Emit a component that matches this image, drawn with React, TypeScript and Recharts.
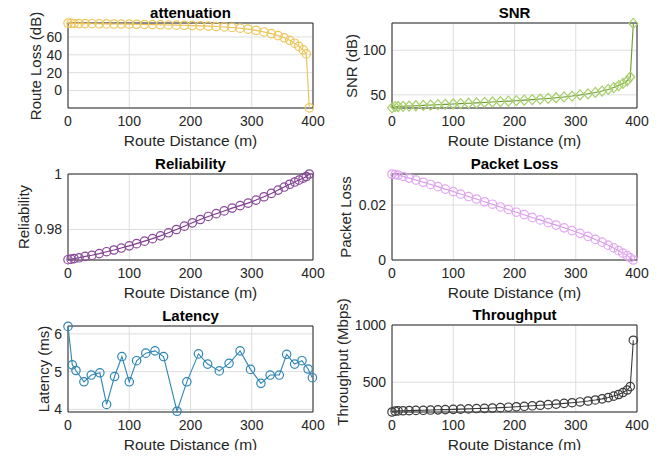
import { LineChart, Line, XAxis, YAxis, CartesianGrid, ReferenceArea } from 'recharts'

const FONT = '"Liberation Sans", Arial, Helvetica, sans-serif'
const INK = '#262626'

// route distance (m) for the smooth metrics
const distance = [
  0, 5, 10, 18, 28, 39, 51, 63, 75, 87, 100, 112, 125, 138, 151, 164, 177, 190, 203, 216,
  229, 242, 255, 268, 281, 294, 307, 320, 332, 343, 353, 362, 370, 377, 384, 389, 394,
]
// latency was sampled at its own points
const latencyDistance = [
  0, 7, 13, 26, 38, 52, 63, 76, 88, 100, 112, 127, 142, 156, 178, 194, 213, 228, 247, 263,
  281, 298, 315, 330, 345, 357, 370, 382, 392, 399,
]

const xTicks = [0, 100, 200, 300, 400]

const attenuation = [
  75.5, 75.2, 75.1, 75.0, 74.9, 74.8, 74.7, 74.6, 74.5, 74.4, 74.3, 74.2, 74.0, 73.8, 73.6,
  73.4, 73.2, 73.0, 72.7, 72.4, 72.1, 71.7, 71.2, 70.6, 69.8, 68.7, 67.3, 65.6, 63.7, 61.5,
  59.0, 56.2, 53.0, 49.5, 45.5, 41.0, -19.5,
]
const snr = [
  35.5, 36.8, 37.0, 37.2, 37.5, 37.8, 38.2, 38.6, 39.0, 39.4, 39.8, 40.2, 40.6, 41.0, 41.5,
  42.0, 42.5, 43.0, 43.5, 44.1, 44.7, 45.3, 46.0, 46.8, 47.7, 48.7, 49.9, 51.2, 52.7, 54.3,
  56.1, 58.2, 60.4, 62.8, 65.8, 70.0, 130.0,
]
const reliability = [
  0.9691, 0.9693, 0.9695, 0.9698, 0.9703, 0.9707, 0.9713, 0.972, 0.9726, 0.9733, 0.9741,
  0.9749, 0.9758, 0.9767, 0.9777, 0.9788, 0.98, 0.9812, 0.9824, 0.9836, 0.9847, 0.9857,
  0.9867, 0.9877, 0.9886, 0.9895, 0.9906, 0.9918, 0.993, 0.9942, 0.9953, 0.9963, 0.9971,
  0.9978, 0.9985, 0.9991, 1.0,
]
const packetLoss = [
  0.0313, 0.0311, 0.0309, 0.0304, 0.0298, 0.0291, 0.0283, 0.0275, 0.0267, 0.0258, 0.0249,
  0.024, 0.0231, 0.0222, 0.0212, 0.0203, 0.0193, 0.0184, 0.0174, 0.0165, 0.0155, 0.0146,
  0.0136, 0.0127, 0.0117, 0.0107, 0.0097, 0.0086, 0.0075, 0.0065, 0.0054, 0.0044, 0.0034,
  0.0025, 0.0016, 0.0008, 0.0,
]
const latency = [
  6.2, 5.18, 5.03, 4.73, 4.91, 4.97, 4.13, 4.87, 5.4, 4.73, 5.29, 5.49, 5.55, 5.4, 3.95,
  4.73, 5.47, 5.2, 5.02, 5.22, 5.55, 5.06, 4.69, 4.91, 4.91, 5.46, 5.2, 5.29, 5.07, 4.84,
]
const throughput = [
  240, 248, 250, 251, 252, 254, 255, 257, 259, 261, 263, 265, 267, 270, 272, 275, 278, 282,
  286, 290, 294, 299, 304, 309, 315, 321, 328, 336, 345, 355, 366, 379, 393, 410, 432, 462,
  867,
]

const zip = (xs: number[], ys: number[]) => xs.map((x, i) => ({ x, y: ys[i] }))

type Marker = 'circle' | 'diamond'

const makeDot = (color: string, marker: Marker) => (p: any) => {
  if (p.cx == null || p.cy == null) return <g key={`d${p.index}`} />
  if (marker === 'diamond') {
    const { cx, cy } = p
    return (
      <path
        key={`d${p.index}`}
        d={`M${cx},${cy - 5}L${cx + 4.5},${cy}L${cx},${cy + 5}L${cx - 4.5},${cy}Z`}
        fill="none"
        stroke={color}
        strokeWidth={1.2}
      />
    )
  }
  return <circle key={`d${p.index}`} cx={p.cx} cy={p.cy} r={4.2} fill="none" stroke={color} strokeWidth={1.2} />
}

interface PanelProps {
  title: string
  yLabel: string
  data: { x: number; y: number }[]
  line: string
  marker: string
  shape?: Marker
  domain: [number, number]
  yTicks: number[]
  px: number
  py: number
  ph: number
  yLabelX: number
  yLabelY?: number
}

const PW = 245
const LEFT = 60
const TOP = 10
const RIGHT = 24

const text: React.CSSProperties = {
  position: 'absolute',
  transform: 'translate(-50%, -50%)',
  whiteSpace: 'nowrap',
  lineHeight: 1,
  fontFamily: FONT,
  color: INK,
}

function Panel({ title, yLabel, data, line, marker, shape = 'circle', domain, yTicks, px, py, ph, yLabelX, yLabelY }: PanelProps) {
  const tick = { fill: INK, fontSize: 14, fontFamily: FONT }
  return (
    <>
      <div style={{ position: 'absolute', left: px - LEFT, top: py - TOP }}>
        <LineChart width={PW + LEFT + RIGHT} height={ph + TOP + 30} data={data} margin={{ top: TOP, right: RIGHT, bottom: 0, left: 0 }}>
          <CartesianGrid stroke="#dedede" />
          <XAxis
            type="number"
            dataKey="x"
            domain={[0, 400]}
            ticks={xTicks}
            interval={0}
            tickLine={false}
            axisLine={false}
            tick={tick}
            height={30}
          />
          <YAxis
            type="number"
            domain={domain}
            ticks={yTicks}
            interval={0}
            tickLine={false}
            axisLine={false}
            tickSize={4}
            tick={tick}
            width={LEFT}
          />
          <ReferenceArea x1={0} x2={400} y1={domain[0]} y2={domain[1]} fill="none" stroke={INK} strokeWidth={1} />
          <Line
            type="linear"
            dataKey="y"
            stroke={line}
            strokeWidth={1.1}
            dot={makeDot(marker, shape)}
            activeDot={false}
            isAnimationActive={false}
          />
        </LineChart>
      </div>
      <div style={{ ...text, left: px + PW / 2, top: py - 11, fontWeight: 'bold', fontSize: 15, color: '#000' }}>{title}</div>
      <div style={{ ...text, left: px + PW / 2, top: py + ph + 33, fontSize: 15.5 }}>Route Distance (m)</div>
      <div
        style={{
          ...text,
          left: yLabelX,
          top: yLabelY ?? py + ph / 2,
          fontSize: 15,
          transform: 'translate(-50%, -50%) rotate(-90deg)',
        }}
      >
        {yLabel}
      </div>
    </>
  )
}

export default function App() {
  return (
    <div style={{ position: 'relative', width: 671, height: 458, margin: -8, background: '#fff', overflow: 'hidden' }}>
      <Panel
        title="attenuation"
        yLabel="Route Loss (dB)"
        data={zip(distance, attenuation)}
        line="#EDC150"
        marker="#EFC65A"
        domain={[-19.6, 75.6]}
        yTicks={[0, 20, 40, 60]}
        px={68}
        py={23}
        ph={85}
        yLabelX={35}
      />
      <Panel
        title="SNR"
        yLabel="SNR (dB)"
        data={zip(distance, snr)}
        line="#6B9A2C"
        marker="#A6CF6A"
        shape="diamond"
        domain={[35.3, 130.5]}
        yTicks={[50, 100]}
        px={392}
        py={23}
        ph={85}
        yLabelX={351}
      />
      <Panel
        title="Reliability"
        yLabel="Reliability"
        data={zip(distance, reliability)}
        line="#7E3A8E"
        marker="#8A4A9A"
        domain={[0.969, 1.0]}
        yTicks={[0.98, 1]}
        px={68}
        py={174}
        ph={86}
        yLabelX={23}
      />
      <Panel
        title="Packet Loss"
        yLabel="Packet Loss"
        data={zip(distance, packetLoss)}
        line="#D898EA"
        marker="#E2A6F2"
        domain={[0, 0.0313]}
        yTicks={[0, 0.02]}
        px={392}
        py={174}
        ph={86}
        yLabelX={345}
      />
      <Panel
        title="Latency"
        yLabel="Latency (ms)"
        data={zip(latencyDistance, latency)}
        line="#2F86B5"
        marker="#2F86B5"
        domain={[3.93, 6.21]}
        yTicks={[4, 5, 6]}
        px={68}
        py={326}
        ph={86}
        yLabelX={43}
      />
      <Panel
        title="Throughput"
        yLabel="Throughput (Mbps)"
        data={zip(distance, throughput)}
        line="#3A3A3A"
        marker="#3A3A3A"
        domain={[240, 1000]}
        yTicks={[500, 1000]}
        px={392}
        py={325}
        ph={87}
        yLabelX={342}
        yLabelY={362}
      />
    </div>
  )
}
